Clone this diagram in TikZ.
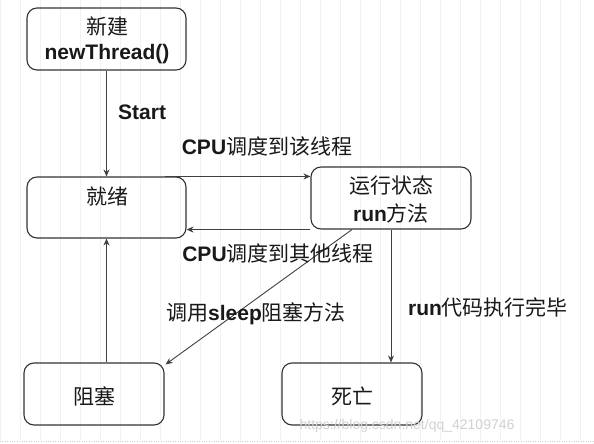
\documentclass[tikz,border=0pt]{standalone}
\usepackage{fontspec}
\setmainfont{Liberation Sans}
\newfontfamily\zhfont{Noto Sans CJK SC}
\newcommand{\zh}[1]{{\zhfont\mdseries #1}}
\usetikzlibrary{arrows.meta}
\begin{document}
\begin{tikzpicture}[x=1pt,y=-1pt,
  box/.style={draw=black!80,line width=1.1pt,rounded corners=10pt,inner sep=0pt},
  txt/.style={font=\fontsize{21}{25}\selectfont\bfseries,inner sep=0pt,text=black!90},
  arr/.style={draw=black!75,line width=0.9pt,-{Stealth[length=7pt,width=6pt]}}]
\useasboundingbox (0,0) rectangle (594,444);
\fill[white] (0,0) rectangle (594,444);
\draw[black!5,line width=0.5pt] (0,0) grid[step=20] (594,440);
\draw[black!20,dotted] (0,441) -- (594,441);
% boxes
\node[box,minimum width=159pt,minimum height=62pt] (xj) at (106.5,39) {};
\node[box,minimum width=159pt,minimum height=61pt] (jx) at (106.5,207.5) {};
\node[box,minimum width=160pt,minimum height=62pt] (yx) at (391,198) {};
\node[box,minimum width=140pt,minimum height=62pt] (zs) at (94,394) {};
\node[box,minimum width=140pt,minimum height=62pt] (sw) at (352,394) {};
% box texts
\node[txt] (t1) at (107,26) {\zh{新建}};
\node[txt] (t2) at (107,54) {newThread()};
\node[txt] (t3) at (107,197) {\zh{就绪}};
\node[txt] (t4) at (391,186) {\zh{运行状态}};
\node[txt] (t5) at (391,213) {run\zh{方法}};
\node[txt] (t6) at (94,396) {\zh{阻塞}};
\node[txt] (t7) at (352,396) {\zh{死亡}};
% connectors
\draw[arr] (xj.south) -- (jx.north);
\draw[arr] ([xshift=-22pt]jx.north east) -- (yx.west |- jx.north);
\draw[arr] (yx.south west) -- (jx.east |- yx.south);
\draw[arr] ([xshift=-39pt]yx.south) -- ([xshift=1pt,yshift=-2pt]zs.north east);
\draw[arr] (yx.south) -- (yx.south |- sw.north);
\draw[arr] (jx.south |- zs.north) -- (jx.south);
% labels
\node[txt,anchor=west] (l1) at (118,112) {Start};
\node[txt] (l2) at (267,147) {CPU\zh{调度到该线程}};
\node[txt] (l3) at (278,253) {CPU\zh{调度到其他线程}};
\node[txt] (l4) at (256,314) {\zh{调用}sleep\zh{阻塞方法}};
\node[txt] (l5) at (488,307) {run\zh{代码执行完毕}};
\node[font=\fontsize{14}{16}\selectfont,text=black!18,inner sep=0pt] (wm) at (407,426) {https://blog.csdn.net/qq\_42109746};
\end{tikzpicture}
\end{document}
